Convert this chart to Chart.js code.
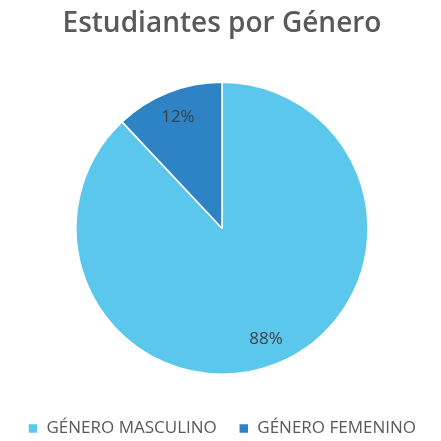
<!DOCTYPE html>
<html>
<head>
<meta charset="utf-8">
<script src="https://cdn.jsdelivr.net/npm/chart.js@4"></script>
<style>
html,body{margin:0;padding:0;background:#fff;}
#wrap{width:441px;height:441px;position:relative;}
</style>
</head>
<body>
<div id="wrap"><canvas id="c" width="441" height="441"></canvas></div>
<script>
const titleText = "Estudiantes por Género";
const categories = ["GÉNERO MASCULINO", "GÉNERO FEMENINO"];
const values = [88, 12];
const labelsText = ["88%", "12%"];
const colors = ["#5BC7EC", "#2E83C5"];

const labelPlugin = {
  id: 'sliceLabels',
  afterDatasetsDraw(chart) {
    const ctx = chart.ctx;
    const meta = chart.getDatasetMeta(0);
    ctx.save();
    ctx.font = '17px "Open Sans", sans-serif';
    ctx.fillStyle = '#404040';
    ctx.textAlign = 'center';
    ctx.textBaseline = 'middle';
    meta.data.forEach((arc, i) => {
      const p = arc.getProps(['x','y','startAngle','endAngle','outerRadius'], true);
      const mid = (p.startAngle + p.endAngle) / 2;
      const r = p.outerRadius * 0.82;
      ctx.fillText(labelsText[i], p.x + Math.cos(mid) * r, p.y + Math.sin(mid) * r);
    });
    ctx.restore();
  }
};

new Chart(document.getElementById('c'), {
  type: 'pie',
  data: {
    labels: categories,
    datasets: [{
      data: values,
      backgroundColor: colors,
      borderColor: '#ffffff',
      borderWidth: 1.5
    }]
  },
  options: {
    responsive: false,
    animation: false,
    radius: 146,
    layout: { padding: { top: 0, bottom: -6, left: 3, right: 0 } },
    plugins: {
      title: {
        display: true,
        text: titleText,
        color: '#595959',
        font: { family: '"Open Sans", sans-serif', size: 28, weight: '600' },
        padding: { top: 7, bottom: 18 }
      },
      legend: {
        position: 'bottom',
        labels: {
          color: '#595959',
          font: { family: '"Open Sans", sans-serif', size: 17 },
          boxWidth: 10,
          boxHeight: 10,
          padding: 22
        }
      },
      tooltip: { enabled: false }
    }
  },
  plugins: [labelPlugin]
});
</script>
</body>
</html>
